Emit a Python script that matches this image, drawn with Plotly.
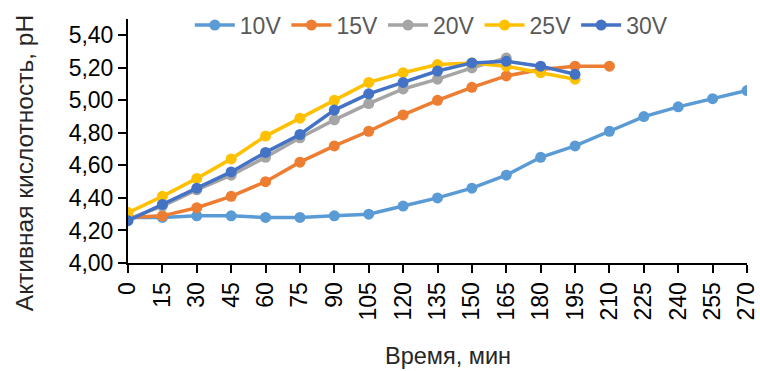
import plotly.graph_objects as go

time_min = [0, 15, 30, 45, 60, 75, 90, 105, 120, 135, 150, 165, 180, 195, 210, 225, 240, 255, 270]

ph_10v = [4.28, 4.28, 4.29, 4.29, 4.28, 4.28, 4.29, 4.30, 4.35, 4.40, 4.46, 4.54, 4.65, 4.72, 4.81, 4.90, 4.96, 5.01, 5.06]
ph_15v = [4.28, 4.29, 4.34, 4.41, 4.50, 4.62, 4.72, 4.81, 4.91, 5.00, 5.08, 5.15, 5.19, 5.21, 5.21]
ph_20v = [4.27, 4.35, 4.45, 4.54, 4.65, 4.77, 4.88, 4.98, 5.07, 5.13, 5.20, 5.26]
ph_25v = [4.31, 4.41, 4.52, 4.64, 4.78, 4.89, 5.00, 5.11, 5.17, 5.22, 5.23, 5.21, 5.17, 5.13]
ph_30v = [4.26, 4.36, 4.46, 4.56, 4.68, 4.79, 4.94, 5.04, 5.11, 5.18, 5.23, 5.24, 5.21, 5.16]

series_names = ["10V", "15V", "20V", "25V", "30V"]
series_values = [ph_10v, ph_15v, ph_20v, ph_25v, ph_30v]
series_colors = ["#5B9BD5", "#ED7D31", "#A5A5A5", "#FFC000", "#4472C4"]

y_ticks = [4.0, 4.2, 4.4, 4.6, 4.8, 5.0, 5.2, 5.4]
y_tick_labels = ["4,00", "4,20", "4,40", "4,60", "4,80", "5,00", "5,20", "5,40"]

x_title = "Время, мин"
y_title = "Активная кислотность, pH"

FONT = "Liberation Sans"
FS = 23

fig = go.Figure()
for name, vals, col in zip(series_names, series_values, series_colors):
    fig.add_trace(go.Scatter(
        x=time_min[:len(vals)], y=vals, name=name, mode="lines+markers",
        line=dict(color=col, width=3.5),
        marker=dict(color=col, size=11, symbol="circle"),
    ))

fig.update_layout(
    width=760, height=371,
    margin=dict(l=128, r=13, t=19, b=108, autoexpand=False),
    paper_bgcolor="white", plot_bgcolor="white",
    font=dict(family=FONT, size=FS, color="black"),
    showlegend=True,
    legend=dict(
        orientation="h", x=0.49, xanchor="center", y=0.975, yanchor="middle",
        font=dict(family=FONT, size=FS, color="#595959"),
        bgcolor="rgba(0,0,0,0)", itemwidth=40, tracegroupgap=0,
    ),
    xaxis=dict(
        range=[0, 270], tickmode="array", tickvals=time_min,
        ticktext=[str(t) for t in time_min], tickangle=-90, automargin=False,
        showgrid=False, zeroline=False, showline=True, linecolor="black", linewidth=2,
        ticks="outside", ticklen=8, tickwidth=2, tickcolor="black",
        tickfont=dict(family=FONT, size=FS, color="black"),
    ),
    yaxis=dict(
        range=[4.0, 5.5], tickmode="array", tickvals=y_ticks, ticktext=y_tick_labels,
        automargin=False,
        showgrid=False, zeroline=False, showline=True, linecolor="black", linewidth=2,
        ticks="outside", ticklen=8, tickwidth=2, tickcolor="black",
        tickfont=dict(family=FONT, size=FS, color="black"),
    ),
    annotations=[
        dict(text=x_title, xref="paper", yref="paper", x=0.517, y=-0.383,
             xanchor="center", yanchor="middle", showarrow=False,
             font=dict(family=FONT, size=23.5, color="#262626")),
        dict(text=y_title, xref="paper", yref="paper", x=-0.168, y=0.409,
             xanchor="center", yanchor="middle", showarrow=False, textangle=-90,
             font=dict(family=FONT, size=24.5, color="#262626")),
    ],
)

fig.write_html("out.html")
